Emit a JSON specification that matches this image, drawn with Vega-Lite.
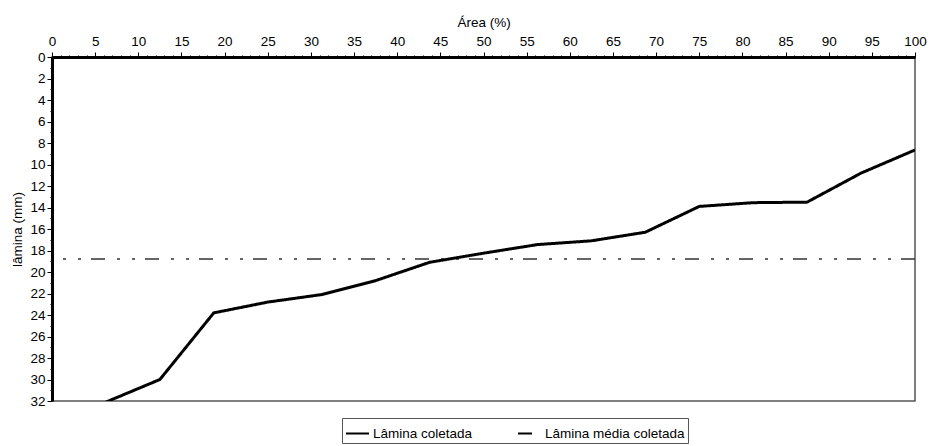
{
  "$schema": "https://vega.github.io/schema/vega-lite/v6.json",
  "width": 863,
  "height": 344,
  "autosize": "none",
  "padding": {"left": 52, "top": 57, "right": 17, "bottom": 45},
  "background": "white",
  "config": {
    "font": "Liberation Sans",
    "view": {"stroke": "#555", "strokeWidth": 1.5},
    "axis": {"labelFont": "Liberation Sans", "titleFont": "Liberation Sans", "labelFontSize": 13.5, "titleFontSize": 13.5, "titleFontWeight": "normal", "labelColor": "#000", "titleColor": "#000", "grid": false, "domainColor": "#000", "tickColor": "#000"}
  },
  "datasets": {
    "curve": [
      {"area": 6.25, "lamina": 32.1, "serie": "Lâmina coletada"},
      {"area": 12.5, "lamina": 30.0, "serie": "Lâmina coletada"},
      {"area": 18.75, "lamina": 23.8, "serie": "Lâmina coletada"},
      {"area": 25, "lamina": 22.8, "serie": "Lâmina coletada"},
      {"area": 31.25, "lamina": 22.1, "serie": "Lâmina coletada"},
      {"area": 37.5, "lamina": 20.8, "serie": "Lâmina coletada"},
      {"area": 43.75, "lamina": 19.1, "serie": "Lâmina coletada"},
      {"area": 50, "lamina": 18.25, "serie": "Lâmina coletada"},
      {"area": 56.25, "lamina": 17.45, "serie": "Lâmina coletada"},
      {"area": 62.5, "lamina": 17.1, "serie": "Lâmina coletada"},
      {"area": 68.75, "lamina": 16.3, "serie": "Lâmina coletada"},
      {"area": 75, "lamina": 13.9, "serie": "Lâmina coletada"},
      {"area": 81.25, "lamina": 13.55, "serie": "Lâmina coletada"},
      {"area": 87.5, "lamina": 13.5, "serie": "Lâmina coletada"},
      {"area": 93.75, "lamina": 10.8, "serie": "Lâmina coletada"},
      {"area": 100, "lamina": 8.65, "serie": "Lâmina coletada"}
    ],
    "media": [
      {"lamina": 18.8, "serie": "Lâmina média coletada"}
    ]
  },
  "encoding": {
    "y": {
      "field": "lamina", "type": "quantitative",
      "scale": {"domain": [0, 32], "reverse": true, "nice": false, "zero": false},
      "axis": {
        "title": "lâmina (mm)", "titlePadding": 5,
        "values": [0,0.5,1,1.5,2,2.5,3,3.5,4,4.5,5,5.5,6,6.5,7,7.5,8,8.5,9,9.5,10,10.5,11,11.5,12,12.5,13,13.5,14,14.5,15,15.5,16,16.5,17,17.5,18,18.5,19,19.5,20,20.5,21,21.5,22,22.5,23,23.5,24,24.5,25,25.5,26,26.5,27,27.5,28,28.5,29,29.5,30,30.5,31,31.5,32],
        "format": "d",
        "labelExpr": "datum.value % 2 === 0 ? datum.label : ''",
        "tickSize": {"condition": {"test": "datum.value % 2 === 0", "value": 5}, "value": 2},
        "labelPadding": 2,
        "labelOverlap": false,
        "labelFlush": false,
        "labelBound": false,
        "domainWidth": 3
      }
    },
    "strokeDash": {
      "field": "serie", "type": "nominal",
      "scale": {"domain": ["Lâmina coletada", "Lâmina média coletada"], "range": [[1, 0], [14, 10, 3, 12, 3, 12]]},
      "legend": {
        "title": null, "orient": "none", "legendX": 290, "legendY": 361,
        "direction": "horizontal", "strokeColor": "#555", "padding": 3,
        "symbolType": "stroke", "symbolSize": 529, "symbolStrokeWidth": 2, "symbolStrokeColor": "#000",
        "labelFont": "Liberation Sans", "labelFontSize": 13.5, "labelColor": "#000", "labelOffset": 3,
        "columnPadding": 41, "symbolOffset": 0
      }
    }
  },
  "layer": [
    {
      "data": {"name": "media"},
      "mark": {"type": "rule", "color": "#333", "strokeWidth": 1.5}
    },
    {
      "data": {"name": "curve"},
      "mark": {"type": "line", "color": "#000", "strokeWidth": 3, "clip": true, "strokeJoin": "miter"},
      "encoding": {
        "x": {
          "field": "area", "type": "quantitative",
          "scale": {"domain": [0, 100], "nice": false},
          "axis": {
            "orient": "top", "title": "Área (%)", "titlePadding": 5,
            "values": [0,1,2,3,4,5,6,7,8,9,10,11,12,13,14,15,16,17,18,19,20,21,22,23,24,25,26,27,28,29,30,31,32,33,34,35,36,37,38,39,40,41,42,43,44,45,46,47,48,49,50,51,52,53,54,55,56,57,58,59,60,61,62,63,64,65,66,67,68,69,70,71,72,73,74,75,76,77,78,79,80,81,82,83,84,85,86,87,88,89,90,91,92,93,94,95,96,97,98,99,100],
            "labelExpr": "datum.value % 5 === 0 ? datum.label : ''",
            "tickSize": {"condition": {"test": "datum.value % 5 === 0", "value": 5}, "value": 2},
            "labelPadding": 4,
            "labelOverlap": false,
            "labelFlush": false,
            "labelBound": false,
            "domainWidth": 3
          }
        }
      }
    }
  ]
}
